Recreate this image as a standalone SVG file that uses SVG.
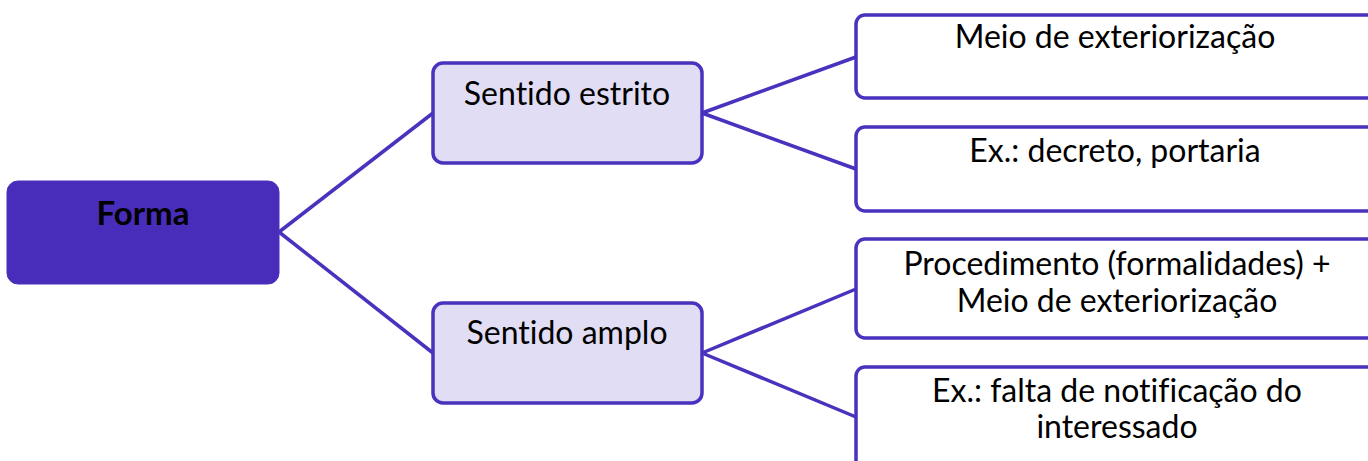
<svg xmlns="http://www.w3.org/2000/svg" width="1368" height="461" viewBox="0 0 1368 461">
<style>
.t{font-family:Lato,"Open Sans","Liberation Sans",sans-serif;font-size:32px;fill:#000;text-anchor:middle;font-variant-ligatures:none}
.b{font-weight:bold;font-size:33px}
.lvl1{fill:#E0DDF5;stroke:#4A31BE;stroke-width:3.5}
.lvl2{fill:#FFFFFF;stroke:#4A31BE;stroke-width:3.5}
.root{fill:#482DBB;stroke:#4A31BE;stroke-width:1}
.c{stroke:#4A31BE;stroke-width:3.5;fill:none}
</style>
<rect width="1368" height="461" fill="#FFFFFF"/>
<g id="connectors">
<line class="c" x1="279" y1="232" x2="433" y2="113"/>
<line class="c" x1="279" y1="232" x2="433" y2="353"/>
<line class="c" x1="702" y1="113" x2="856" y2="57"/>
<line class="c" x1="702" y1="113" x2="856" y2="169"/>
<line class="c" x1="702" y1="353" x2="856" y2="289"/>
<line class="c" x1="702" y1="353" x2="856" y2="417"/>
</g>
<g id="forma">
<rect class="root" x="7" y="181" width="272" height="103" rx="11"/>
<text class="t b" x="143" y="225">Forma</text>
</g>
<g id="sentido-estrito">
<rect class="lvl1" x="433" y="63" width="269" height="100" rx="10"/>
<text class="t" x="567" y="105">Sentido estrito</text>
</g>
<g id="sentido-amplo">
<rect class="lvl1" x="433" y="303" width="269" height="100" rx="10"/>
<text class="t" x="567" y="344">Sentido amplo</text>
</g>
<g id="meio">
<rect class="lvl2" x="856" y="15" width="530" height="83" rx="9"/>
<text class="t" x="1115" y="48">Meio de exteriorização</text>
</g>
<g id="ex-decreto">
<rect class="lvl2" x="856" y="127" width="530" height="84" rx="9"/>
<text class="t" x="1115" y="162">Ex.: decreto, portaria</text>
</g>
<g id="procedimento">
<rect class="lvl2" x="856" y="239" width="530" height="99" rx="9"/>
<text class="t" x="1117" y="275">Procedimento (formalidades) +</text>
<text class="t" x="1117" y="312">Meio de exteriorização</text>
</g>
<g id="ex-falta">
<rect class="lvl2" x="856" y="367" width="530" height="110" rx="9"/>
<text class="t" x="1117" y="402">Ex.: falta de notificação do</text>
<text class="t" x="1117" y="438">interessado</text>
</g>
</svg>
